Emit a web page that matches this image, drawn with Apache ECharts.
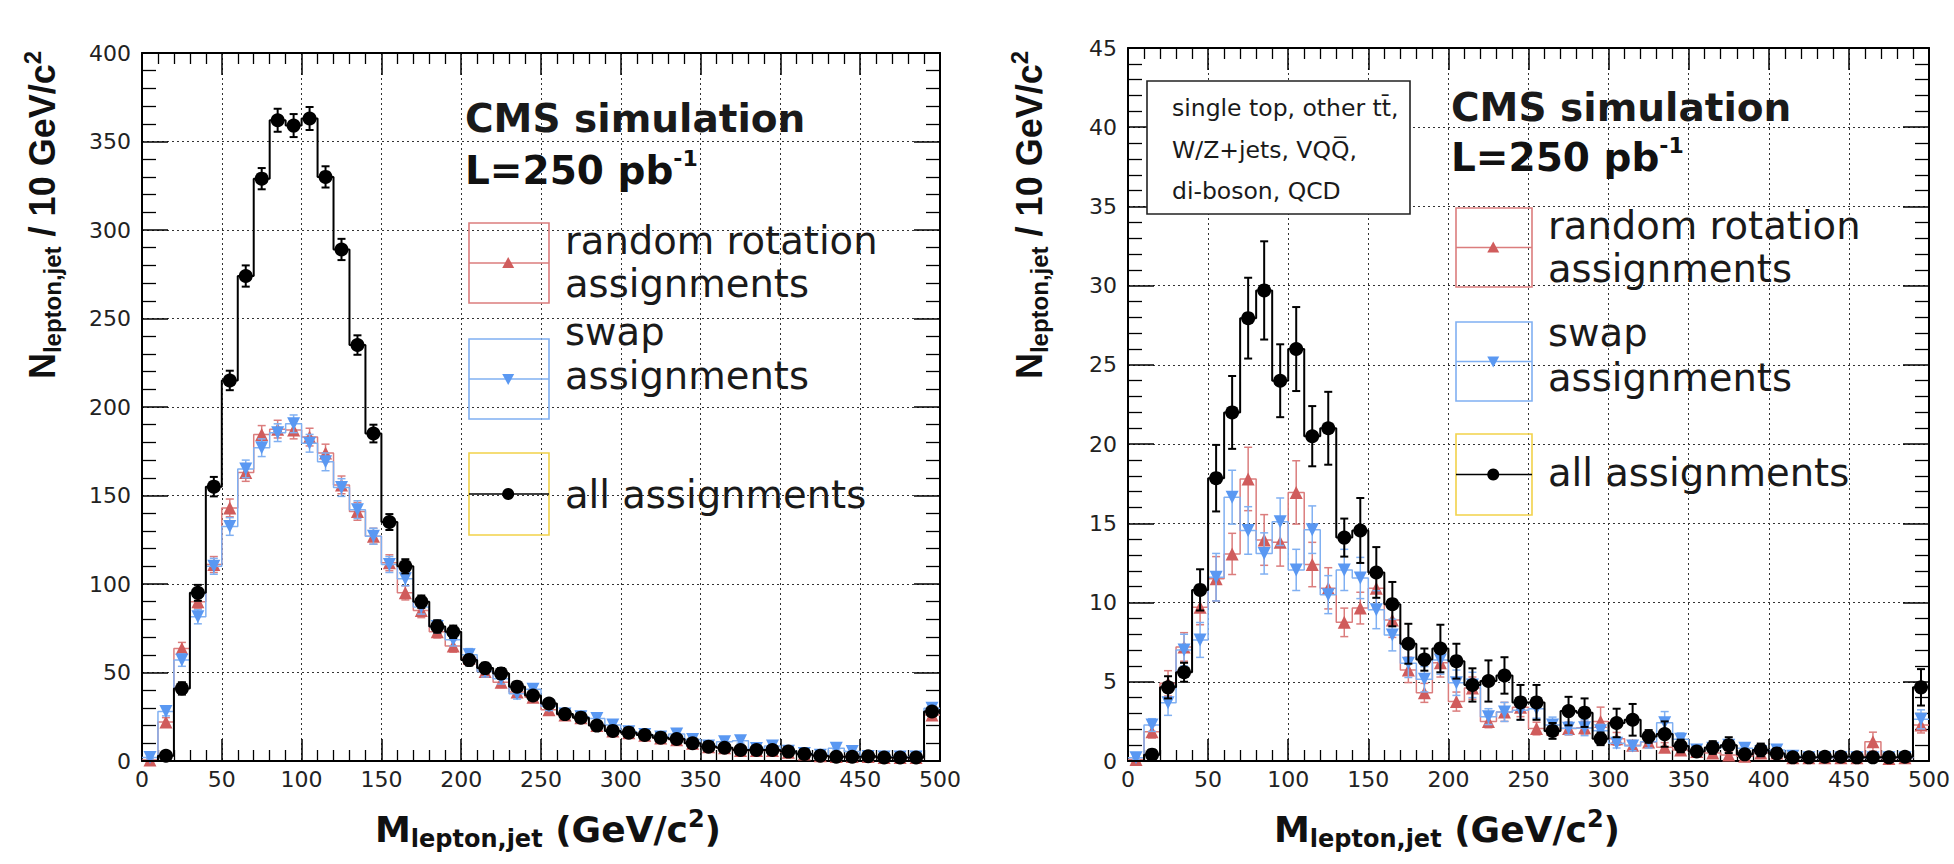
<!DOCTYPE html>
<html><head><meta charset="utf-8">
<script src="https://cdn.jsdelivr.net/npm/echarts@6.0.0/dist/echarts.min.js"></script>
<style>html,body{margin:0;padding:0;background:#fff}#c{width:1954px;height:864px}</style>
</head><body><div id="c"></div>
<script>
// ---------------- data (bin centres, GeV/c^2) ----------------
const binCenters = [5,15,25,35,45,55,65,75,85,95,105,115,125,135,145,155,165,175,185,195,
  205,215,225,235,245,255,265,275,285,295,305,315,325,335,345,355,365,375,385,395,
  405,415,425,435,445,455,465,475,485,495];
const xTicks = [0,50,100,150,200,250,300,350,400,450,500];
const leftYTicks = [0,50,100,150,200,250,300,350,400];
const rightYTicks = [0,5,10,15,20,25,30,35,40,45];

// Left panel (signal ttbar)
const leftAll = [0,3,41,95,155,215,274,329,362,359,363,330,289,235,185,135,110,90,76,73,
  57,52.5,49.5,42,37,32.5,26.5,24.5,20,17,16,14.7,13.2,12.4,10,8.1,7.5,6.2,6.2,6.2,
  5.3,4,3,2.4,2.4,2.7,2,2,2,28];
const leftAllErr = [0,1,3.5,4.5,5.5,5.5,6,6,6.5,6.5,6.5,6,6,5.5,5,4.5,4,3.5,3.5,3.5,
  3,3,3,2.5,2.5,2.5,2,2,2,2,1.8,1.7,1.6,1.6,1.5,1.3,1.3,1.2,1.2,1.2,
  1.1,1,0.8,0.8,0.8,0.8,0.7,0.7,0.7,2.5];
const leftRandom = [0.5,22,63.5,90,111,143,163,184.5,187.5,187,183,174,156,141,127,112,95,85,73,65,
  58,50.5,44.5,39,36,29,26,24.5,20,17,16,14.5,13,12,10,8,7.5,6,6,6,
  5,4,3,2.5,2.5,2.5,2,2,2,26];
const leftRandomErr = [0.5,2.5,3.5,4,4.5,5,5,5,5,5,5,5,5,5,4.5,4.5,4,4,3.5,3.5,
  3.5,3,3,3,2.5,2.5,2.5,2.5,2.2,2,2,1.8,1.8,1.8,1.6,1.4,1.4,1.4,1.3,1.3,
  1.2,1.1,1,1,1,0.9,0.8,0.8,0.8,2.5];
const leftSwap = [2,28,57,81.5,110,132.5,165,177,185.5,190.5,179.5,169,154.5,142,127,111,103,87,76,68.5,
  60,50.5,46.5,38,40.5,31,26.5,25,24,20.3,16.5,15,13.5,15.3,12.2,8.5,10.9,11.5,7,8.5,
  5.5,4.2,3.2,7.2,5.3,2.6,2.2,2.2,2.2,29.8];
const leftSwapErr = [0.8,2.5,3.5,4,4.5,5,5,5,5,5,5,5,5,5,4.5,4.5,4,4,3.5,3.5,
  3.5,3,3,3,2.5,2.5,2.5,2.5,2.2,2,2,1.8,1.8,1.8,1.6,1.4,1.4,1.4,1.3,1.3,
  1.2,1.1,1,1,1,0.9,0.8,0.8,0.8,2.5];

// Right panel (backgrounds)
const rightAll = [0,0.4,4.65,5.6,10.8,17.85,22,27.95,29.7,24,26,20.5,21,14.1,14.55,11.9,9.9,7.4,6.4,7.1,
  6.3,4.8,5.05,5.4,3.7,3.7,1.9,3.15,3.05,1.4,2.4,2.6,1.55,1.7,0.95,0.6,0.85,1.0,0.42,0.7,
  0.48,0.23,0.23,0.27,0.27,0.23,0.23,0.23,0.27,4.65];
const rightAllErr = [0,0.3,0.7,0.6,1.3,2.1,2.3,2.55,3.1,2.3,2.65,1.9,2.3,1.2,2.05,1.6,1.4,1.26,0.7,1.5,
  1.1,1.05,1.3,1.15,1.1,1.1,0.5,0.9,0.9,0.4,0.9,1.0,0.4,0.8,0.4,0.3,0.4,0.5,0.2,0.4,
  0.3,0.2,0.2,0.2,0.2,0.2,0.2,0.2,0.2,1.15];
const rightRandom = [0.1,1.85,4.9,7.2,9.7,11.5,13.07,17.8,13.95,13.8,16.95,12.4,10.9,8.75,9.65,10.9,8.9,5.75,4.3,6.2,
  3.75,4.6,2.5,3.1,3.4,2.05,2.0,2.05,2.1,2.5,1.4,1.0,1.2,0.86,0.7,0.6,0.5,0.38,0.3,0.5,
  0.5,0.2,0.2,0.2,0.2,0.2,1.22,0.15,0.2,2.27];
const rightRandomErr = [0.1,0.4,0.8,0.9,1.1,1.4,1.3,2.0,1.6,1.5,2.0,1.4,1.3,0.9,1.0,1.3,1.1,0.8,0.6,0.9,
  0.6,0.7,0.4,0.6,0.6,0.4,0.4,0.4,0.4,0.9,0.4,0.3,0.3,0.3,0.3,0.2,0.2,0.2,0.2,0.2,
  0.2,0.1,0.1,0.1,0.1,0.1,0.6,0.1,0.1,0.5];
const rightSwap = [0.2,2.27,3.68,7.0,7.64,11.6,16.65,14.55,13.1,15.1,12.06,14.6,10.5,12.06,11.55,9.55,7.95,6.17,5.16,6.38,
  4.94,4.8,2.8,3.1,3.2,3.3,2.27,2.06,2.1,1.91,1.12,0.95,1.22,2.42,1.37,0.7,0.8,1.0,0.8,0.6,
  0.7,0.3,0.2,0.2,0.2,0.2,0.2,0.2,0.2,2.63];
const rightSwapErr = [0.1,0.4,0.8,1.0,1.1,1.5,1.7,1.5,1.3,1.5,1.3,1.5,1.2,1.3,1.3,1.2,1.0,0.9,0.8,0.9,
  0.8,0.8,0.5,0.6,0.6,0.6,0.5,0.4,0.5,0.4,0.3,0.3,0.4,0.7,0.4,0.2,0.2,0.3,0.2,0.2,
  0.2,0.1,0.1,0.1,0.1,0.1,0.1,0.1,0.1,0.6];

// ---------------- styling ----------------
const FONT = 'DejaVu Sans';
const RED = '#d05c5c', RED_L = '#db7d7d';
const BLUE = '#5a98f2', BLUE_L = '#80b0f2';
const YEL = '#f2d24a';
const BLK = '#000';

const chart = echarts.init(document.getElementById('c'), null, {renderer: 'svg'});

function stepData(vals) {
  const w = binCenters[1] - binCenters[0];
  const d = binCenters.map((c, i) => [c - w / 2, vals[i]]);
  d.push([binCenters[binCenters.length - 1] + w / 2, vals[vals.length - 1]]);
  return d;
}
function errData(vals, errs) { return binCenters.map((c, i) => [c, vals[i], errs[i]]); }
function markData(vals) {
  const out = [];
  binCenters.forEach((c, i) => { if (vals[i] > 0) out.push([c, vals[i]]); });
  return out;
}
function errRenderer(color, cap, lw) {
  return function (params, api) {
    const x = api.value(0), y = api.value(1), e = api.value(2);
    if (!(e > 0)) return null;
    const t = api.coord([x, y + e]);
    const b = api.coord([x, Math.max(0, y - e)]);
    const st = {stroke: color, lineWidth: lw};
    return {type: 'group', children: [
      {type: 'line', shape: {x1: t[0], y1: t[1], x2: b[0], y2: b[1]}, style: st},
      {type: 'line', shape: {x1: t[0] - cap, y1: t[1], x2: t[0] + cap, y2: t[1]}, style: st},
      {type: 'line', shape: {x1: b[0] - cap, y1: b[1], x2: b[0] + cap, y2: b[1]}, style: st}
    ]};
  };
}
function histSeries(gi, vals, errs, lineColor, markColor, symbol, rot, size, z, lw) {
  const ax = gi * 2;
  return [
    {type: 'line', xAxisIndex: ax, yAxisIndex: ax, data: stepData(vals), step: 'end',
     symbol: 'none', showSymbol: false, lineStyle: {color: lineColor, width: lw}, z: z, silent: true},
    {type: 'custom', xAxisIndex: ax, yAxisIndex: ax, data: errData(vals, errs), encode: {x: 0, y: 1},
     renderItem: errRenderer(lineColor, 4, lw), z: z + 1, clip: true, silent: true},
    {type: 'scatter', xAxisIndex: ax, yAxisIndex: ax, data: markData(vals), symbol: symbol,
     symbolRotate: rot, symbolSize: size, itemStyle: {color: markColor, opacity: 1}, z: z + 2, silent: true}
  ];
}

function xAxes(gi) {
  const common = {type: 'value', gridIndex: gi, min: xTicks[0], max: xTicks[xTicks.length - 1],
    interval: xTicks[1] - xTicks[0],
    axisLine: {show: true, onZero: false, lineStyle: {color: BLK, width: 2}},
    axisTick: {show: true, inside: true, length: 22, lineStyle: {color: BLK, width: 1.5}},
    minorTick: {show: true, splitNumber: 5, length: 11, lineStyle: {color: BLK, width: 1.3}}};
  return [
    Object.assign({}, common, {position: 'bottom',
      axisLabel: {margin: 7, fontFamily: FONT, fontSize: 22, color: '#222'},
      splitLine: {show: true, lineStyle: {type: [2, 3], color: '#333', width: 1}}}),
    Object.assign({}, common, {position: 'top', axisLabel: {show: false}, splitLine: {show: false}})
  ];
}
function yAxes(gi, ticks) {
  const common = {type: 'value', gridIndex: gi, min: ticks[0], max: ticks[ticks.length - 1],
    interval: ticks[1] - ticks[0],
    axisLine: {show: true, onZero: false, lineStyle: {color: BLK, width: 2}},
    axisTick: {show: true, inside: true, length: 26, lineStyle: {color: BLK, width: 1.5}},
    minorTick: {show: true, splitNumber: 5, length: 14, lineStyle: {color: BLK, width: 1.3}}};
  return [
    Object.assign({}, common, {position: 'left',
      axisLabel: {margin: 11, fontFamily: FONT, fontSize: 22, color: '#222'},
      splitLine: {show: true, lineStyle: {type: [2, 3], color: '#333', width: 1}}}),
    Object.assign({}, common, {position: 'right', axisLabel: {show: false}, splitLine: {show: false}})
  ];
}

// ---------------- annotations / legends ----------------
const richTitleX = {
  m: {fontFamily: FONT, fontWeight: 'bold', fontSize: 36, lineHeight: 44, fill: '#111'},
  s: {fontFamily: FONT, fontWeight: 'bold', fontSize: 24, lineHeight: 14, verticalAlign: 'bottom', fill: '#111'},
  p: {fontFamily: FONT, fontWeight: 'bold', fontSize: 24, lineHeight: 14, verticalAlign: 'top', fill: '#111'}
};
const richTitleY = {
  m: {fontFamily: 'Liberation Sans', fontWeight: 'bold', fontSize: 36, lineHeight: 44, fill: '#111'},
  s: {fontFamily: 'Liberation Sans', fontWeight: 'bold', fontSize: 24, lineHeight: 14, verticalAlign: 'bottom', fill: '#111'},
  p: {fontFamily: 'Liberation Sans', fontWeight: 'bold', fontSize: 24, lineHeight: 14, verticalAlign: 'top', fill: '#111'}
};
const richLumi = {
  b: {fontFamily: FONT, fontWeight: 'bold', fontSize: 39, lineHeight: 46, fill: '#111'},
  p: {fontFamily: FONT, fontWeight: 'bold', fontSize: 22, lineHeight: 12, verticalAlign: 'top', fill: '#111'}
};
function txt(x, y, text, size, weight) {
  return {type: 'text', x: x, y: y, z: 50, silent: true,
    style: {text: text, fontFamily: FONT, fontSize: size, fontWeight: weight || 'normal',
      fill: '#1a1a1a', align: 'left', verticalAlign: 'middle'}};
}
function legendBlock(x0, x1, y0, y1, boxColor, lineColor, marker) {
  const ym = (y0 + y1) / 2, mx = x0 + (x1 - x0) * 0.49;
  const els = [
    {type: 'rect', z: 50, silent: true, shape: {x: x0, y: y0, width: x1 - x0, height: y1 - y0},
     style: {fill: 'none', stroke: boxColor, lineWidth: 1.6}},
    {type: 'line', z: 51, silent: true, shape: {x1: x0, y1: ym, x2: x1, y2: ym},
     style: {stroke: lineColor, lineWidth: 1.6}}
  ];
  if (marker === 'up') els.push({type: 'polygon', z: 52, silent: true,
    shape: {points: [[mx, ym - 6], [mx - 6, ym + 5], [mx + 6, ym + 5]]}, style: {fill: RED}});
  if (marker === 'down') els.push({type: 'polygon', z: 52, silent: true,
    shape: {points: [[mx, ym + 6], [mx - 6, ym - 5], [mx + 6, ym - 5]]}, style: {fill: BLUE}});
  if (marker === 'dot') els.push({type: 'circle', z: 52, silent: true,
    shape: {cx: mx, cy: ym, r: 6}, style: {fill: BLK}});
  return els;
}
function panelTexts(cmsX, cmsY, lumiY, legX0, legX1, boxes, textX, textYs) {
  let els = [];
  els.push(txt(cmsX, cmsY, 'CMS simulation', 39, 'bold'));
  els.push({type: 'text', x: cmsX, y: lumiY, z: 50, silent: true,
    style: {text: '{b|L=250 pb}{p|-1}', rich: richLumi, align: 'left', verticalAlign: 'middle'}});
  els = els.concat(legendBlock(legX0, legX1, boxes[0][0], boxes[0][1], RED_L, RED_L, 'up'));
  els = els.concat(legendBlock(legX0, legX1, boxes[1][0], boxes[1][1], BLUE_L, BLUE_L, 'down'));
  els = els.concat(legendBlock(legX0, legX1, boxes[2][0], boxes[2][1], YEL, BLK, 'dot'));
  const labels = ['random rotation', 'assignments', 'swap', 'assignments', 'all assignments'];
  labels.forEach((l, i) => els.push(txt(textX, textYs[i], l, 38.5)));
  return els;
}

let graphics = [];
graphics = graphics.concat(panelTexts(465, 118, 170, 469, 549,
  [[223, 303], [339, 419], [453, 535]], 565, [240, 283, 331, 375, 494]));
graphics = graphics.concat(panelTexts(1451, 107, 157, 1456, 1532,
  [[208, 287], [322, 401], [434, 515]], 1548, [225, 268, 332, 377, 472]));
// background list box (right panel)
graphics.push({type: 'rect', z: 50, silent: true, shape: {x: 1147, y: 81, width: 263, height: 133},
  style: {fill: '#fff', stroke: '#222', lineWidth: 1.6}});
graphics.push(txt(1172, 108, 'single top, other tt\u0304,', 23.5));
graphics.push(txt(1172, 150, 'W/Z+jets, VQQ\u0305,', 23.5));
graphics.push(txt(1172, 191, 'di-boson, QCD', 23.5));
// axis titles
[548, 1447].forEach(cx => graphics.push({type: 'text', x: cx, y: 829, z: 50, silent: true,
  style: {text: '{m|M}{s|lepton,jet}{m| (GeV/c}{p|2}{m|)}', rich: richTitleX, align: 'center', verticalAlign: 'middle'}}));
[42, 1029].forEach(cx => graphics.push({type: 'text', x: cx, y: 215, rotation: Math.PI / 2, z: 50, silent: true,
  style: {text: '{m|N}{s|lepton,jet}{m| / 10 GeV/c}{p|2}', rich: richTitleY, align: 'center', verticalAlign: 'middle'}}));

const series = [].concat(
  histSeries(0, leftRandom, leftRandomErr, RED_L, RED, 'triangle', 0, 13, 2, 1.5),
  histSeries(0, leftSwap, leftSwapErr, BLUE_L, BLUE, 'triangle', 180, 13, 5, 1.5),
  histSeries(0, leftAll, leftAllErr, BLK, BLK, 'circle', 0, 14, 8, 2),
  histSeries(1, rightRandom, rightRandomErr, RED_L, RED, 'triangle', 0, 13, 2, 1.5),
  histSeries(1, rightSwap, rightSwapErr, BLUE_L, BLUE, 'triangle', 180, 13, 5, 1.5),
  histSeries(1, rightAll, rightAllErr, BLK, BLK, 'circle', 0, 14, 8, 2)
);

chart.setOption({
  animation: false,
  backgroundColor: '#fff',
  grid: [
    {left: 142, top: 53, width: 798, height: 708},
    {left: 1128, top: 48, width: 801, height: 713}
  ],
  xAxis: xAxes(0).concat(xAxes(1)),
  yAxis: yAxes(0, leftYTicks).concat(yAxes(1, rightYTicks)),
  series: series,
  graphic: graphics
});
</script>
</body></html>
